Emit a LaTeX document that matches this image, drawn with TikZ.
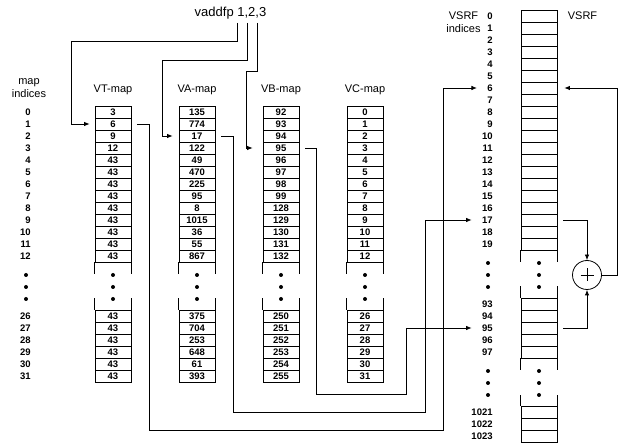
\documentclass[tikz,border=0pt]{standalone}
\usepackage{fontspec}
\setmainfont{Liberation Sans}
\usetikzlibrary{arrows.meta,positioning,calc}

\begin{document}
\begin{tikzpicture}[
  x=1pt,y=-1pt,
  line width=0.8pt,
  cell/.style={draw,minimum width=36pt,minimum height=12pt,inner sep=0pt,font=\bfseries\fontsize{9.5}{10}\selectfont},
  idx/.style={anchor=east,inner sep=0pt,font=\bfseries\fontsize{9.5}{10}\selectfont},
  title/.style={align=center,inner sep=0pt,font=\fontsize{11}{12.5}\selectfont},
  arr/.style={-{Latex[length=5.5pt,width=4.5pt]}}
]
\useasboundingbox (0,0) rectangle (619,446);

% instruction and its operands
\node[font=\fontsize{13}{15}\selectfont] (instr) at (230.5,13.5) {vaddfp 1,2,3};
\coordinate (op1) at (237.3,23);
\coordinate (op2) at (247.7,23);
\coordinate (op3) at (257.7,23);

% map indices
\node[title] (mapidx) at (29,88) {map\\indices};
\foreach \i in {0,...,12}
  \node[idx] (m-\i) at (31,{112+12*\i}) {\i};
\foreach \i in {26,...,31}
  \node[idx] (m-\i) at (31,{12*\i+4}) {\i};

% the four maps
\node[title] (vtlbl) at (113,90) {VT-map};
\node[title] (valbl) at (197,90) {VA-map};
\node[title] (vblbl) at (281,90) {VB-map};
\node[title] (vclbl) at (365,90) {VC-map};

\foreach \v [count=\i from 0] in {3,6,9,12,43,43,43,43,43,43,43,43,43}
  \node[cell] (vt-\i) at (113,{112+12*\i}) {\v};
\foreach \v [count=\i from 26] in {43,43,43,43,43,43}
  \node[cell] (vt-\i) at (113,{12*\i+4}) {\v};

\foreach \v [count=\i from 0] in {135,774,17,122,49,470,225,95,8,1015,36,55,867}
  \node[cell] (va-\i) at (197,{112+12*\i}) {\v};
\foreach \v [count=\i from 26] in {375,704,253,648,61,393}
  \node[cell] (va-\i) at (197,{12*\i+4}) {\v};

\foreach \v [count=\i from 0] in {92,93,94,95,96,97,98,99,128,129,130,131,132}
  \node[cell] (vb-\i) at (281,{112+12*\i}) {\v};
\foreach \v [count=\i from 26] in {250,251,252,253,254,255}
  \node[cell] (vb-\i) at (281,{12*\i+4}) {\v};

\foreach \i in {0,...,12}
  \node[cell] (vc-\i) at (365,{112+12*\i}) {\i};
\foreach \i in {26,...,31}
  \node[cell] (vc-\i) at (365,{12*\i+4}) {\i};

\foreach \m in {vt,va,vb,vc} {
  \draw (\m-12.south west) -- ++(0,12) (\m-12.south east) -- ++(0,12);
  \draw (\m-26.north west) -- ++(0,-12) (\m-26.north east) -- ++(0,-12);
}
\foreach \x in {26,113,197,281,365}
  \foreach \y in {275,287,299}
    \fill (\x,\y) circle[radius=2pt];

% VSRF
\node[title] (vsrfidx) at (463.5,22) {VSRF\\indices};
\node[title] (vsrf) at (582.5,16) {VSRF};
\foreach \i in {0,...,19} {
  \node[cell] (r-\i) at (539,{16+12*\i}) {};
  \node[idx] (i-\i) at (493,{16+12*\i}) {\i};
}
\foreach \i in {93,...,97} {
  \node[cell] (r-\i) at (539,{12*\i-812}) {};
  \node[idx] (i-\i) at (493,{12*\i-812}) {\i};
}
\foreach \i in {1021,1022,1023} {
  \node[cell] (r-\i) at (539,{12*\i-11840}) {};
  \node[idx] (i-\i) at (493,{12*\i-11840}) {\i};
}
\draw (r-19.south west) -- ++(0,12) (r-19.south east) -- ++(0,12);
\draw (r-93.north west) -- ++(0,-12) (r-93.north east) -- ++(0,-12);
\draw (r-97.south west) -- ++(0,12) (r-97.south east) -- ++(0,12);
\draw (r-1021.north west) -- ++(0,-11) (r-1021.north east) -- ++(0,-11);
\foreach \x in {488,539}
  \foreach \y in {263,275,287,371,383,395}
    \fill (\x,\y) circle[radius=2pt];

% operands into the maps
\draw[arr] (op1) |- (71,41) |- ([xshift=-5pt]vt-1.west);
\draw[arr] (op2) |- (162,60) |- ([xshift=-6pt]va-2.west);
\draw[arr] (op3) |- (246,71) |- ([xshift=-10pt]vb-3.west);

% maps into the VSRF indices
\draw[arr] ([xshift=6pt]vt-1.east) -| (149,430) -| ([xshift=-44pt]i-6.west) -- ([xshift=-10pt]i-6.west);
\draw[arr] ([xshift=6pt]va-2.east) -| (233,412) -| ([xshift=-56pt]i-17.west) -- ([xshift=-10pt]i-17.west);
\draw[arr] ([xshift=6pt]vb-3.east) -| (316,394) -| ([xshift=-75pt]i-95.west) -- ([xshift=-10pt]i-95.west);

% adder
\node[circle,draw,minimum size=29pt,inner sep=0pt] (adder) at (587,275) {};
\draw[line width=0.6pt] (adder.center) +(-6.5,0) -- +(6.5,0) +(0,-6.5) -- +(0,6.5);
\draw[arr] ([xshift=6pt]r-17.east) -| (adder.north);
\draw[arr] ([xshift=6pt]r-95.east) -| (adder.south);
\draw[arr] (adder.east) -- ++(15,0) |- ([xshift=7pt]r-6.east);
\end{tikzpicture}
\end{document}
